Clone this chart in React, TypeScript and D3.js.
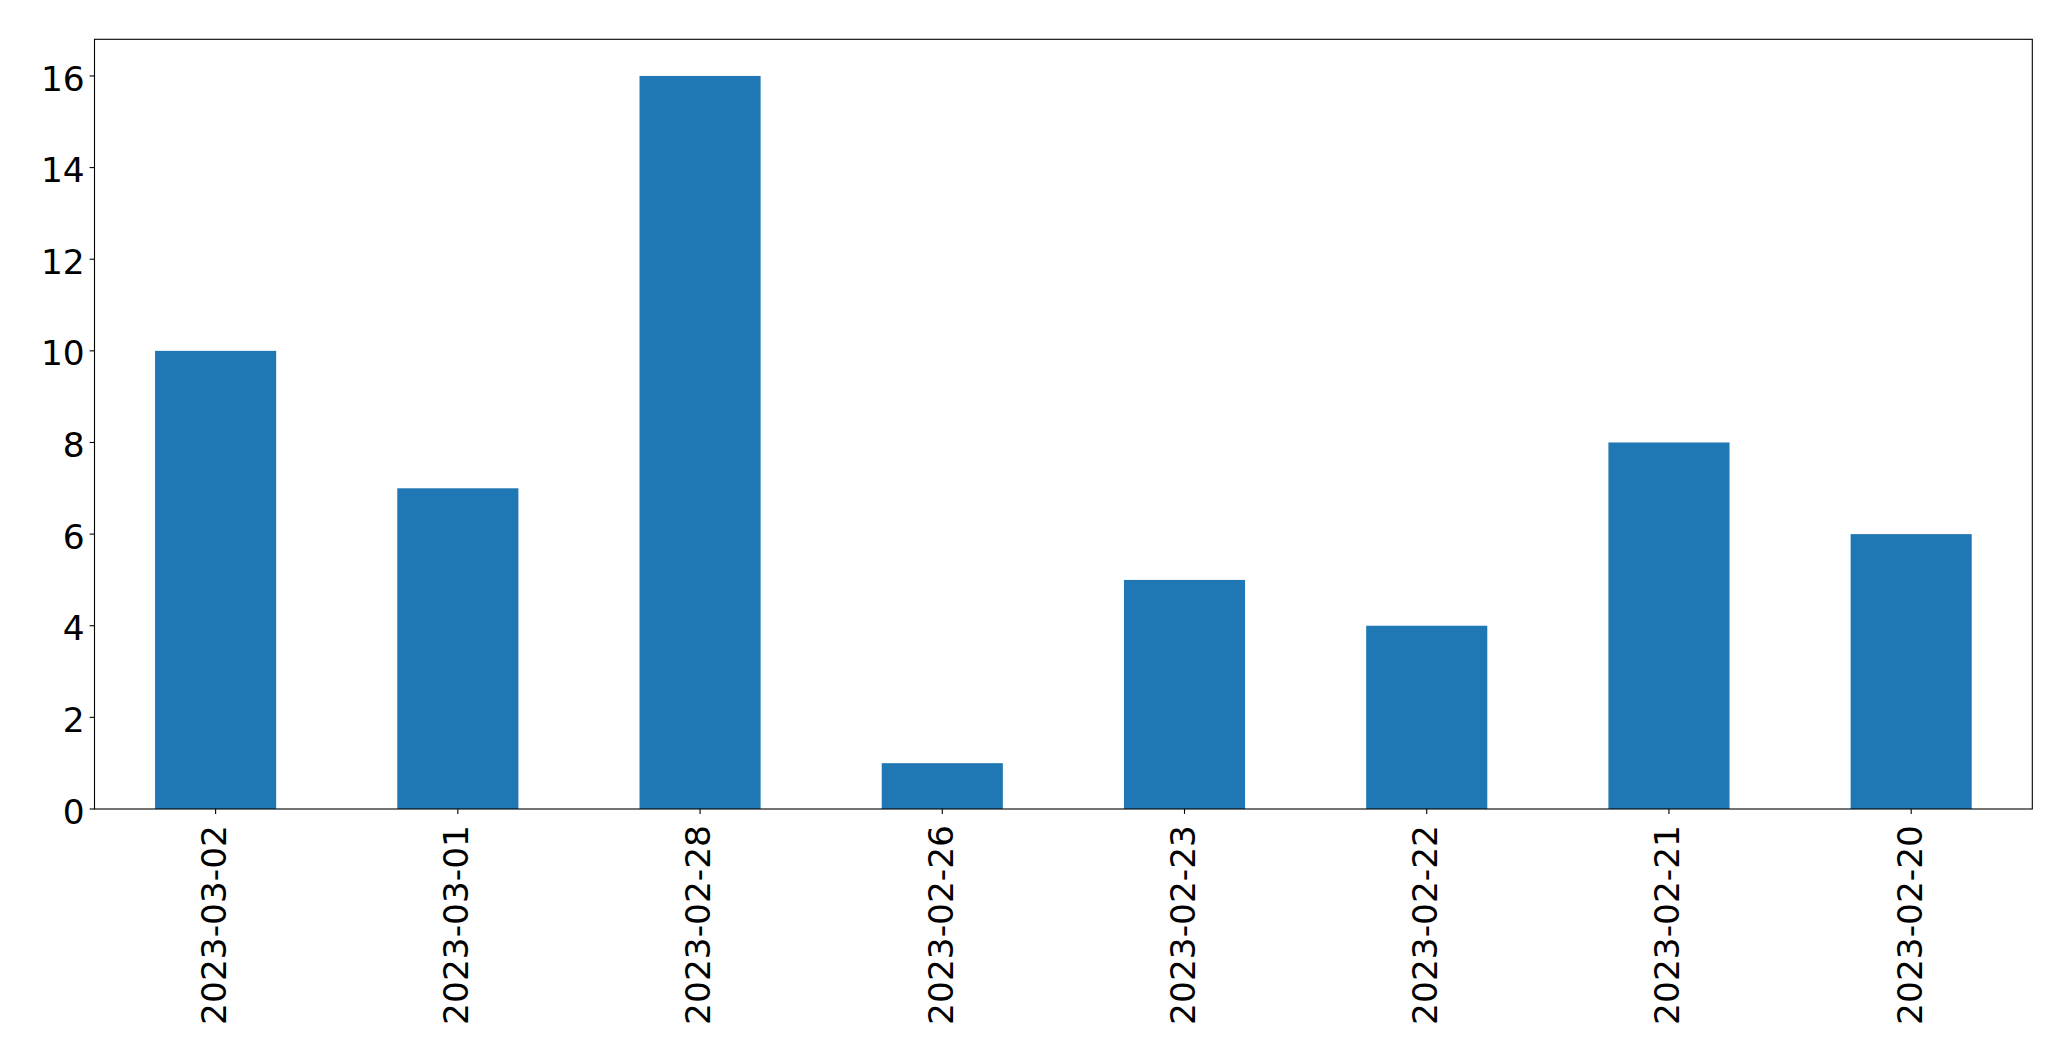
import React from "react";
import * as d3 from "d3";

const categories = ["2023-03-02", "2023-03-01", "2023-02-28", "2023-02-26", "2023-02-23", "2023-02-22", "2023-02-21", "2023-02-20"];
const values = [10, 7, 16, 1, 5, 4, 8, 6];
const yTicks = [0, 2, 4, 6, 8, 10, 12, 14, 16];

const W = 2071;
const H = 1061;
const margin = { left: 94.5, right: 2032.3, top: 39.3, bottom: 809 };
const FONT = "'DejaVu Sans', sans-serif";
const FS = 34.4;

export default function App() {
  const x = d3.scaleLinear().domain([-0.5, categories.length - 0.5]).range([margin.left, margin.right]);
  const y = d3.scaleLinear().domain([0, d3.max(values)! * 1.05]).range([margin.bottom, margin.top]);
  const bw = x(0.5) - x(0);
  return (
    <svg width={W} height={H} style={{ position: "absolute", left: 0, top: 0, background: "#fff" }}>
      <rect x={0} y={0} width={W} height={H} fill="#fff" />
      {values.map((v, i) => (
        <rect key={i} x={x(i) - bw / 2} y={y(v)} width={bw} height={y(0) - y(v)} fill="#1f77b4" />
      ))}
      <rect x={margin.left} y={margin.top} width={margin.right - margin.left} height={margin.bottom - margin.top} fill="none" stroke="#000" strokeWidth={1.1} />
      {yTicks.map((t) => (
        <g key={t}>
          <line x1={margin.left - 4.9} x2={margin.left} y1={y(t)} y2={y(t)} stroke="#000" strokeWidth={1.1} />
          <text x={margin.left - 9.8} y={y(t) + 14.6} textAnchor="end" fontFamily={FONT} fontSize={FS} fill="#000">{t}</text>
        </g>
      ))}
      {categories.map((c, i) => (
        <g key={c}>
          <line x1={x(i)} x2={x(i)} y1={margin.bottom} y2={margin.bottom + 4.9} stroke="#000" strokeWidth={1.1} />
          <text transform={`translate(${x(i) + 10.4},${825}) rotate(-90)`} textAnchor="end" fontFamily={FONT} fontSize={FS} fill="#000">{c}</text>
        </g>
      ))}
    </svg>
  );
}
